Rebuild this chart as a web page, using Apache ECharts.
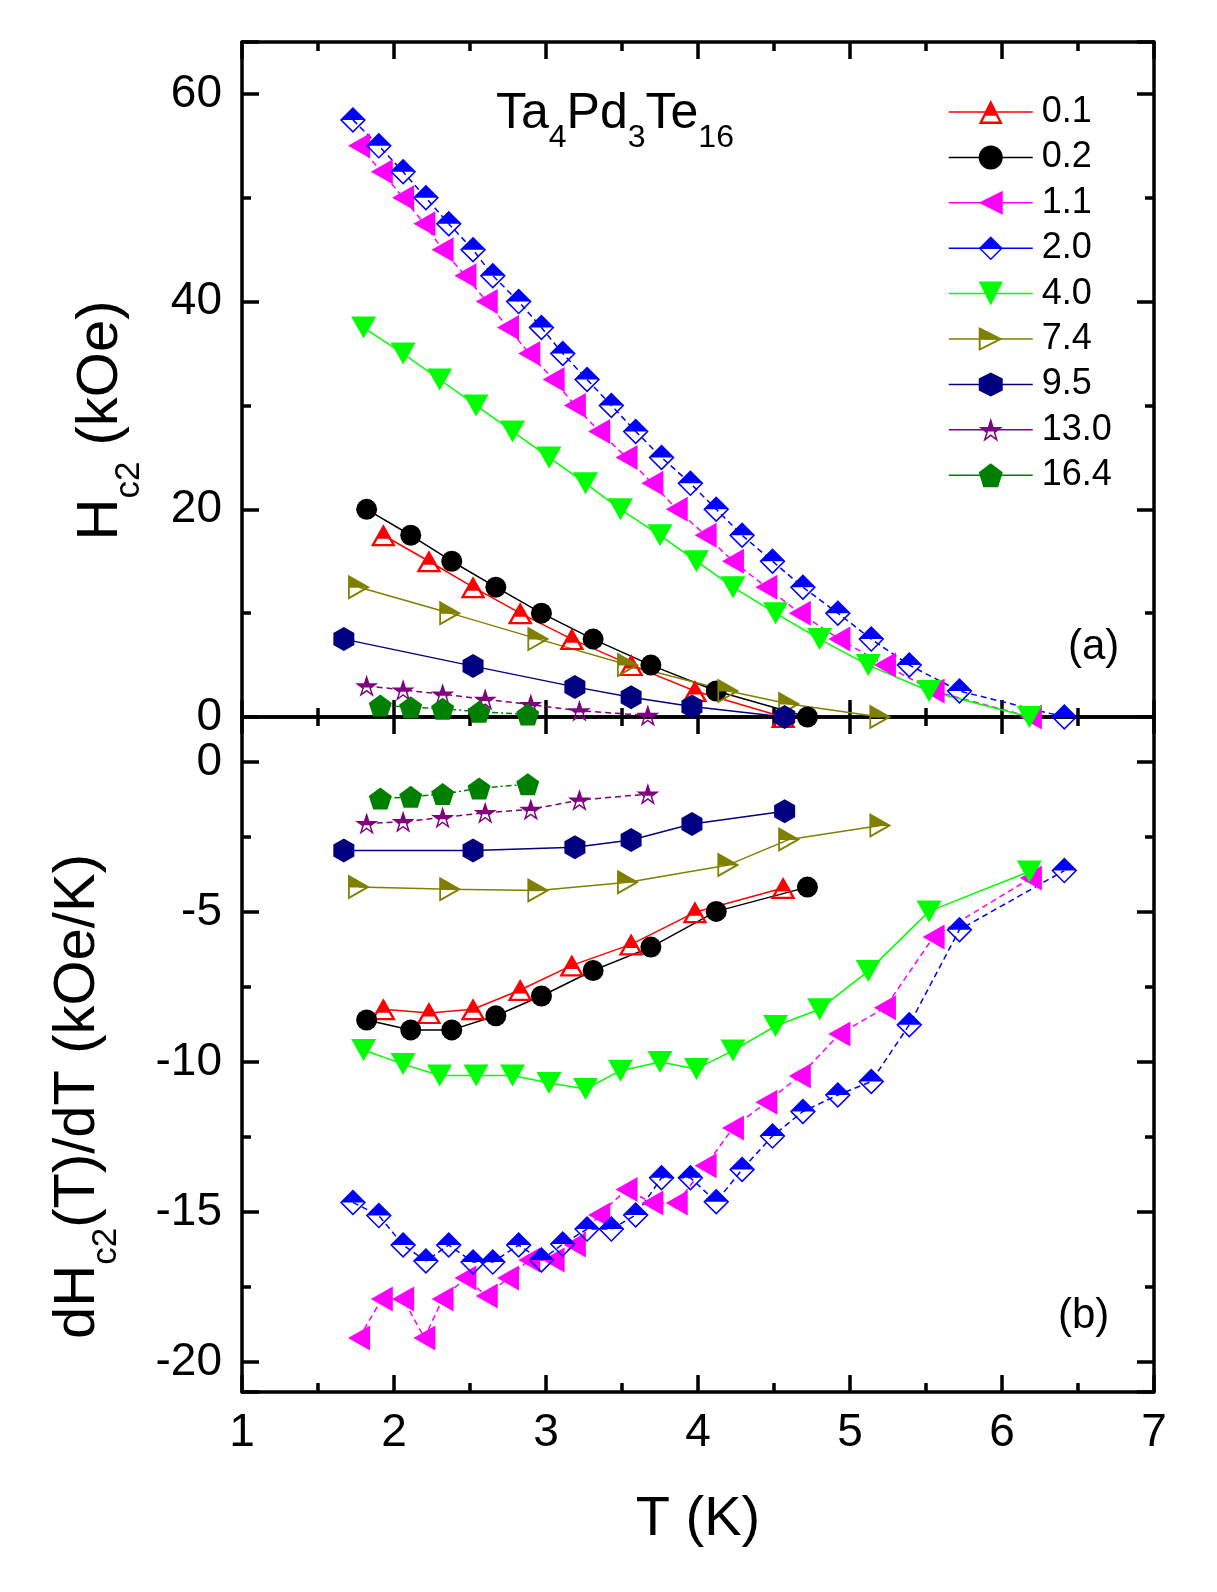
<!DOCTYPE html>
<html>
<head>
<meta charset="utf-8">
<title>Hc2 of Ta4Pd3Te16</title>
<script src="https://cdn.jsdelivr.net/npm/echarts/dist/echarts.min.js"></script>
<style>
  html, body { margin: 0; padding: 0; background: #fff; }
  #chart { width: 1217px; height: 1592px; }
</style>
</head>
<body>
<div id="chart"></div>
<script>
// field values (legend), in plot order
const fields = ['0.1', '0.2', '1.1', '2.0', '4.0', '7.4', '9.5', '13.0', '16.4'];

// T (K) of each point, Hc2 (kOe) for panel (a), dHc2/dT (kOe/K) for panel (b)
const t01 = [1.93, 2.23, 2.52, 2.83, 3.17, 3.56, 3.98, 4.56];
const hc01 = [17.5, 15, 12.5, 10, 7.5, 5, 2.5, 0];
const dh01 = [-8.24, -8.37, -8.24, -7.6, -6.78, -6.08, -5.01, -4.2];

const t02 = [1.82, 2.11, 2.38, 2.67, 2.97, 3.31, 3.69, 4.12, 4.72];
const hc02 = [20, 17.5, 15, 12.5, 10, 7.5, 5, 2.5, 0];
const dh02 = [-8.6, -8.93, -8.93, -8.46, -7.8, -6.95, -6.17, -4.98, -4.17];

const t11 = [1.77, 1.92, 2.06, 2.20, 2.32, 2.47, 2.61, 2.75, 2.89, 3.05, 3.19, 3.35,
  3.53, 3.70, 3.86, 4.05, 4.23, 4.45, 4.67, 4.93, 5.23, 5.55, 6.19];
const hc11 = [55, 52.5, 50, 47.5, 45, 42.5, 40, 37.5, 35, 32.5, 30, 27.5,
  25, 22.5, 20, 17.5, 15, 12.5, 10, 7.5, 5, 2.5, 0];
const dh11 = [-19.2, -17.9, -17.9, -19.2, -17.9, -17.2, -17.8, -17.2, -16.6, -16.6, -16.1, -15.1,
  -14.25, -14.7, -14.7, -13.46, -12.2, -11.34, -10.47, -9.07, -8.19, -5.83, -3.87];

const t20 = [1.73, 1.90, 2.06, 2.21, 2.36, 2.52, 2.65, 2.82, 2.97, 3.11, 3.27, 3.43,
  3.59, 3.76, 3.95, 4.12, 4.29, 4.49, 4.69, 4.92, 5.14, 5.39, 5.72, 6.41];
const hc20 = [57.5, 55, 52.5, 50, 47.5, 45, 42.5, 40, 37.5, 35, 32.5, 30,
  27.5, 25, 22.5, 20, 17.5, 15, 12.5, 10, 7.5, 5, 2.5, 0];
const dh20 = [-14.68, -15.12, -16.1, -16.63, -16.1, -16.67, -16.67, -16.1, -16.6, -16.07, -15.57, -15.57,
  -15.1, -13.86, -13.86, -14.66, -13.58, -12.47, -11.65, -11.1, -10.65, -8.76, -5.59, -3.62];

const t40 = [1.80, 2.06, 2.30, 2.54, 2.78, 3.02, 3.26, 3.49, 3.75, 3.99, 4.23, 4.51, 4.80, 5.12, 5.52, 6.18];
const hc40 = [37.5, 35, 32.5, 30, 27.5, 25, 22.5, 20, 17.5, 15, 12.5, 10, 7.5, 5, 2.5, 0];
const dh40 = [-9.6, -10.07, -10.45, -10.45, -10.45, -10.7, -10.9, -10.29, -10.0, -10.23, -9.62, -8.8, -8.24, -6.97, -4.98, -3.65];

const t74 = [1.77, 2.37, 2.95, 3.54, 4.20, 4.60, 5.20];
const hc74 = [12.5, 10, 7.5, 5, 2.5, 1.25, 0];
const dh74 = [-4.17, -4.24, -4.28, -4.01, -3.43, -2.58, -2.12];

const t95 = [1.67, 2.52, 3.19, 3.56, 3.96, 4.57];
const hc95 = [7.5, 4.9, 2.9, 1.9, 1.0, 0];
const dh95 = [-2.95, -2.95, -2.84, -2.6, -2.07, -1.64];

const t130 = [1.82, 2.06, 2.32, 2.60, 2.90, 3.22, 3.67];
const hc130 = [3.0, 2.6, 2.2, 1.7, 1.2, 0.6, 0.15];
const dh130 = [-2.05, -1.99, -1.85, -1.69, -1.58, -1.27, -1.07];

const t164 = [1.91, 2.11, 2.32, 2.56, 2.88];
const hc164 = [1.1, 0.95, 0.8, 0.5, 0.25];
const dh164 = [-1.22, -1.16, -1.07, -0.88, -0.74];

const sets = [
  { t: t01, hc: hc01, dh: dh01 },
  { t: t02, hc: hc02, dh: dh02 },
  { t: t11, hc: hc11, dh: dh11 },
  { t: t20, hc: hc20, dh: dh20 },
  { t: t40, hc: hc40, dh: dh40 },
  { t: t74, hc: hc74, dh: dh74 },
  { t: t95, hc: hc95, dh: dh95 },
  { t: t130, hc: hc130, dh: dh130 },
  { t: t164, hc: hc164, dh: dh164 }
];

const FONT = '"Liberation Sans", Arial, Helvetica, sans-serif';

// ---- symbol paths (100 unit box) ----
function polyPath(pts) {
  return pts.map((p, i) => (i ? 'L' : 'M') + p[0].toFixed(2) + ' ' + p[1].toFixed(2)).join(' ') + ' Z';
}
function area(pts) {
  let a = 0;
  for (let i = 0; i < pts.length; i++) {
    const p = pts[i], q = pts[(i + 1) % pts.length];
    a += p[0] * q[1] - q[0] * p[1];
  }
  return a / 2;
}
function inset(pts, t) {
  const s = area(pts) > 0 ? 1 : -1, n = pts.length, lines = [];
  for (let i = 0; i < n; i++) {
    const p = pts[i], q = pts[(i + 1) % n];
    const dx = q[0] - p[0], dy = q[1] - p[1], L = Math.hypot(dx, dy);
    lines.push([p[0] - dy / L * s * t, p[1] + dx / L * s * t, dx, dy]);
  }
  const out = [];
  for (let i = 0; i < n; i++) {
    const a = lines[(i - 1 + n) % n], b = lines[i];
    const den = a[2] * b[3] - a[3] * b[2];
    const u = ((b[0] - a[0]) * b[3] - (b[1] - a[1]) * b[2]) / den;
    out.push([a[0] + a[2] * u, a[1] + a[3] * u]);
  }
  return out;
}
function clipBelow(pts, c) {
  const out = [];
  for (let i = 0; i < pts.length; i++) {
    const p = pts[i], q = pts[(i + 1) % pts.length];
    const pin = p[1] >= c, qin = q[1] >= c;
    if (pin) out.push(p);
    if (pin !== qin) {
      const u = (c - p[1]) / (q[1] - p[1]);
      out.push([p[0] + (q[0] - p[0]) * u, c]);
    }
  }
  return out;
}
function ringPts(n, r, r2) {
  const pts = [];
  const m = r2 ? n * 2 : n;
  for (let i = 0; i < m; i++) {
    const a = -Math.PI / 2 + 2 * Math.PI * i / m;
    const rr = r2 && i % 2 ? r2 : r;
    pts.push([50 + rr * Math.cos(a), 50 + rr * Math.sin(a)]);
  }
  return pts;
}
function filled(pts) { return 'path://' + polyPath(pts); }
// top half solid, bottom half hollow (outline only)
function half(pts, cut, t) {
  let hole = clipBelow(inset(pts, t), cut);
  if (Math.sign(area(hole)) === Math.sign(area(pts))) hole = hole.reverse();
  return 'path://' + polyPath(pts) + ' ' + polyPath(hole);
}

const SHAPES = {
  triUp: [[50, 0], [100, 100], [0, 100]],
  triDown: [[0, 0], [100, 0], [50, 100]],
  triLeft: [[0, 50], [100, 0], [100, 100]],
  triRight: [[0, 0], [100, 50], [0, 100]],
  diamond: [[50, 0], [100, 50], [50, 100], [0, 50]],
  hexagon: ringPts(6, 50),
  pentagon: ringPts(5, 50),
  star: ringPts(5, 50, 19.1)
};

const looks = [
  { color: '#ff0000', symbol: half(SHAPES.triUp, 66, 10), size: [25, 22], dash: 'solid' },
  { color: '#000000', symbol: 'circle', size: 21, dash: 'solid' },
  { color: '#ff00ff', symbol: filled(SHAPES.triLeft), size: [22, 25], dash: [6, 4] },
  { color: '#0000ff', symbol: half(SHAPES.diamond, 50, 6), size: [26, 26], dash: [6, 4] },
  { color: '#00ff00', symbol: filled(SHAPES.triDown), size: [25, 22], dash: 'solid' },
  { color: '#808000', symbol: half(SHAPES.triRight, 52, 8), size: [22, 25], dash: 'solid' },
  { color: '#000080', symbol: filled(SHAPES.hexagon), size: [21, 24], dash: 'solid' },
  { color: '#800080', symbol: half(SHAPES.star, 52, 6), size: [23, 22], dash: [6, 4] },
  { color: '#008000', symbol: filled(SHAPES.pentagon), size: [23, 22], dash: [6, 3, 2, 3] }
];

function pairs(xs, ys) { return xs.map((x, i) => [x, ys[i]]); }

const series = [];
sets.forEach((s, i) => {
  const lk = looks[i];
  [[0, s.hc], [2, s.dh]].forEach(([ax, ys]) => {
    series.push({
      type: 'line',
      name: fields[i],
      xAxisIndex: ax,
      yAxisIndex: ax,
      data: pairs(s.t, ys),
      symbol: lk.symbol,
      symbolSize: lk.size,
      showAllSymbol: true,
      clip: false,
      lineStyle: { color: lk.color, width: 1.5, type: lk.dash },
      itemStyle: { color: lk.color, borderWidth: 0 },
      emphasis: { disabled: true }
    });
  });
});

const AXLINE = { color: '#000', width: 3.5 };
const tickLabel = { fontSize: 46, color: '#000', fontFamily: FONT };

function xAx(grid, pos, showLabels) {
  return {
    type: 'value', gridIndex: grid, position: pos,
    min: 1, max: 7, interval: 1,
    axisLine: { onZero: false, lineStyle: AXLINE },
    axisTick: { inside: true, length: 17, lineStyle: AXLINE },
    minorTick: { show: true, splitNumber: 2, length: 9, lineStyle: AXLINE },
    splitLine: { show: false },
    axisLabel: Object.assign({ show: showLabels, margin: 18 }, tickLabel)
  };
}
function yAx(grid, pos, showLabels, range) {
  return Object.assign({
    type: 'value', gridIndex: grid, position: pos,
    axisLine: { onZero: false, lineStyle: AXLINE },
    axisTick: { inside: true, length: 17, lineStyle: AXLINE },
    minorTick: { show: true, splitNumber: 2, length: 9, lineStyle: AXLINE },
    splitLine: { show: false },
    axisLabel: Object.assign({ show: showLabels, margin: 20, showMinLabel: range.hideMin ? false : null, showMaxLabel: false }, tickLabel)
  }, range.scale);
}

const rangeA = { scale: { min: 0, max: 65, interval: 20 }, hideMin: false };
const rangeB = { scale: { min: -21, max: 1.5, splitNumber: 5 }, hideMin: true };

const nameRich = {
  m: { fontSize: 58, lineHeight: 92, fontFamily: FONT, color: '#000' },
  s: { fontSize: 35, lineHeight: 35, verticalAlign: 'bottom', fontFamily: FONT, color: '#000' }
};

const yA = yAx(0, 'left', true, rangeA);
yA.name = '{m|H}{s|c2}{m| (kOe)}';
yA.nameLocation = 'middle';
yA.nameGap = 95;
yA.nameTextStyle = { rich: nameRich, padding: [0, 82, 0, 0] };

const yB = yAx(1, 'left', true, rangeB);
yB.name = '{m|dH}{s|c2}{m|(T)/dT (kOe/K)}';
yB.nameLocation = 'middle';
yB.nameGap = 118;
yB.nameTextStyle = { rich: nameRich, padding: [0, 84, 0, 0] };

const xB = xAx(1, 'bottom', true);
xB.name = 'T (K)';
xB.nameLocation = 'middle';
xB.nameGap = 100;
xB.nameTextStyle = { fontSize: 56, fontFamily: FONT, color: '#000' };

const chart = echarts.init(document.getElementById('chart'), null, { renderer: 'canvas' });

chart.setOption({
  animation: false,
  backgroundColor: '#fff',
  title: [
    {
      text: '{m|Ta}{s|4}{m|Pd}{s|3}{m|Te}{s|16}',
      left: 496, top: 74, padding: 0,
      textStyle: {
        fontWeight: 'normal',
        rich: {
          m: { fontSize: 50, lineHeight: 80, fontWeight: 'normal', fontFamily: FONT, color: '#000' },
          s: { fontSize: 32, lineHeight: 32, fontWeight: 'normal', verticalAlign: 'bottom', fontFamily: FONT, color: '#000' }
        }
      }
    },
    { text: '(a)', left: 1068, top: 626, padding: 0,
      textStyle: { fontSize: 42, fontWeight: 'normal', fontFamily: FONT, color: '#000' } },
    { text: '(b)', left: 1058, top: 1295, padding: 0,
      textStyle: { fontSize: 42, fontWeight: 'normal', fontFamily: FONT, color: '#000' } }
  ],
  legend: {
    orient: 'vertical',
    left: 943, top: 89,
    itemWidth: 84, itemHeight: 30, itemGap: 9.4,
    selectedMode: false,
    data: fields,
    textStyle: { fontSize: 36, lineHeight: 30, fontFamily: FONT, color: '#000', padding: [0, 0, 0, 4] },
    lineStyle: { type: 'solid', width: 1.5 }
  },
  grid: [
    { left: 242, top: 42, width: 912, height: 675 },
    { left: 242, top: 717, width: 912, height: 675 }
  ],
  xAxis: [xAx(0, 'bottom', false), xAx(0, 'top', false), xB, xAx(1, 'top', false)],
  yAxis: [yA, yAx(0, 'right', false, rangeA), yB, yAx(1, 'right', false, rangeB)],
  series: series
});
</script>
</body>
</html>
